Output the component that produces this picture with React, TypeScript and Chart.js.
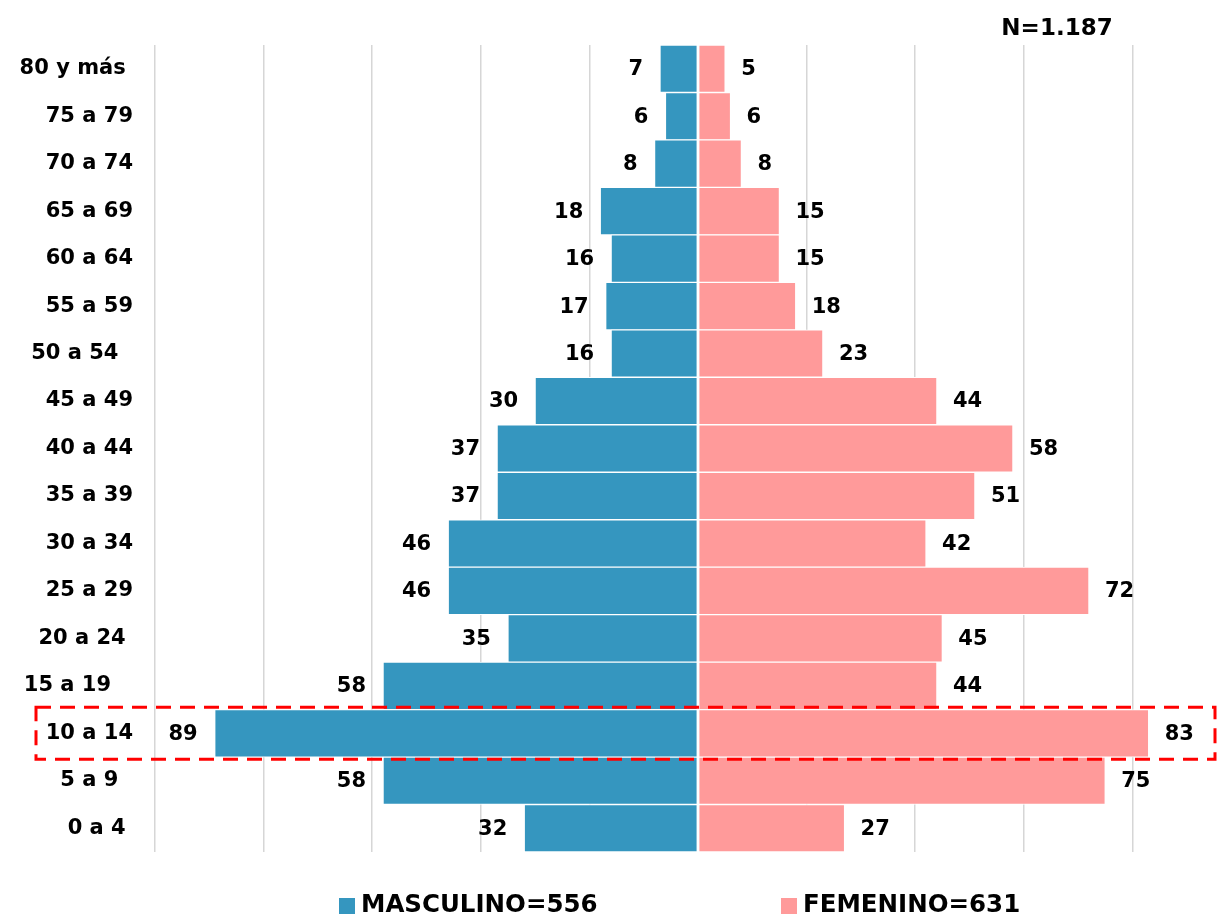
import React, { useEffect, useRef } from "react";
import { Chart, registerables } from "chart.js";

Chart.register(...registerables);

const categories = [
  "80 y más ", "75 a 79", "70 a 74", "65 a 69", "60 a 64", "55 a 59", "50 a 54  ",
  "45 a 49", "40 a 44", "35 a 39", "30 a 34", "25 a 29", "20 a 24 ", "15 a 19   ",
  "10 a 14", "5 a 9  ", "0 a 4 ",
];
const masculino = [7, 6, 8, 18, 16, 17, 16, 30, 37, 37, 46, 46, 35, 58, 89, 58, 32];
const femenino = [5, 6, 8, 15, 15, 18, 23, 44, 58, 51, 42, 72, 45, 44, 83, 75, 27];
const seriesLabels = ["MASCULINO=556", "FEMENINO=631"];
const totalLabel = "N=1.187";
const highlightCategory = "10 a 14";
const axisMin = -100;
const axisMax = 100;
const axisStep = 20;

const BLUE = "#3596bf";
const PINK = "#ff9a9a";
const FONT = "'DejaVu Sans', sans-serif";

const labelsPlugin = {
  id: "customLabels",
  afterDatasetsDraw(chart: any) {
    const ctx = chart.ctx;
    const yScale = chart.scales.y;
    ctx.save();
    // dashed highlight box
    const hi = categories.indexOf(highlightCategory);
    if (hi >= 0) {
      const cy = yScale.getPixelForValue(hi);
      ctx.strokeStyle = "#ff0000";
      ctx.lineWidth = 3;
      ctx.setLineDash([15, 9]);
      ctx.strokeRect(36, cy - 26, 1215 - 36, 52);
      ctx.setLineDash([]);
    }
    // data labels
    ctx.fillStyle = "#000";
    ctx.font = `bold 21px ${FONT}`;
    ctx.textBaseline = "middle";
    const m0 = chart.getDatasetMeta(0);
    m0.data.forEach((el: any, i: number) => {
      ctx.textAlign = "right";
      ctx.fillText(String(masculino[i]), el.x - 17, el.y + 1);
    });
    const m1 = chart.getDatasetMeta(1);
    m1.data.forEach((el: any, i: number) => {
      ctx.textAlign = "left";
      ctx.fillText(String(femenino[i]), el.x + 16, el.y + 1);
    });
    // total
    ctx.font = `bold 23px ${FONT}`;
    ctx.textAlign = "center";
    ctx.textBaseline = "alphabetic";
    ctx.fillText(totalLabel, 1057, 35);
    // legend
    ctx.font = `bold 24.5px ${FONT}`;
    ctx.textBaseline = "middle";
    ctx.textAlign = "left";
    const items = [
      { x: 339, color: BLUE, text: seriesLabels[0] },
      { x: 781, color: PINK, text: seriesLabels[1] },
    ];
    items.forEach((it) => {
      ctx.fillStyle = it.color;
      ctx.fillRect(it.x, 898, 16, 16);
      ctx.fillStyle = "#000";
      ctx.fillText(it.text, it.x + 22, 906);
    });
    ctx.restore();
  },
};

export default function App() {
  const ref = useRef<HTMLCanvasElement | null>(null);
  useEffect(() => {
    if (!ref.current) return;
    const chart = new Chart(ref.current, {
      type: "bar",
      data: {
        labels: categories,
        datasets: [
          {
            label: seriesLabels[0],
            data: masculino.map((v) => -v),
            backgroundColor: BLUE,
            borderColor: "#ffffff",
            borderWidth: 1,
            borderSkipped: false,
            categoryPercentage: 1,
            barPercentage: 1,
          },
          {
            label: seriesLabels[1],
            data: femenino,
            backgroundColor: PINK,
            borderColor: "#ffffff",
            borderWidth: 1,
            borderSkipped: false,
            categoryPercentage: 1,
            barPercentage: 1,
          },
        ],
      },
      options: {
        indexAxis: "y",
        animation: false,
        responsive: true,
        maintainAspectRatio: false,
        layout: { padding: { top: 45, bottom: 71, left: 0, right: 1 } },
        plugins: {
          legend: { display: false },
          tooltip: { enabled: false },
        },
        scales: {
          x: {
            stacked: true,
            min: axisMin,
            max: axisMax,
            ticks: { display: false, stepSize: axisStep },
            border: { display: false },
            grid: {
              drawTicks: false,
              lineWidth: 1.5,
              color: (c: any) => (c.tick && c.tick.value === 0 ? "rgba(0,0,0,0)" : "#d6d6d6"),
            },
          },
          y: {
            stacked: true,
            border: { display: false },
            grid: { display: false, drawTicks: false },
            afterFit: (s: any) => {
              s.width = 155;
            },
            ticks: {
              padding: 22,
              color: "#000",
              font: { family: FONT, weight: "bold", size: 21 },
            },
          },
        },
      },
      plugins: [labelsPlugin],
    } as any);
    return () => chart.destroy();
  }, []);
  return (
    <div style={{ position: "absolute", left: 0, top: 0, width: 1229, height: 923, overflow: "hidden", background: "#fff" }}>
      <div style={{ position: "relative", width: 1242, height: 923 }}>
        <canvas ref={ref} />
      </div>
    </div>
  );
}
